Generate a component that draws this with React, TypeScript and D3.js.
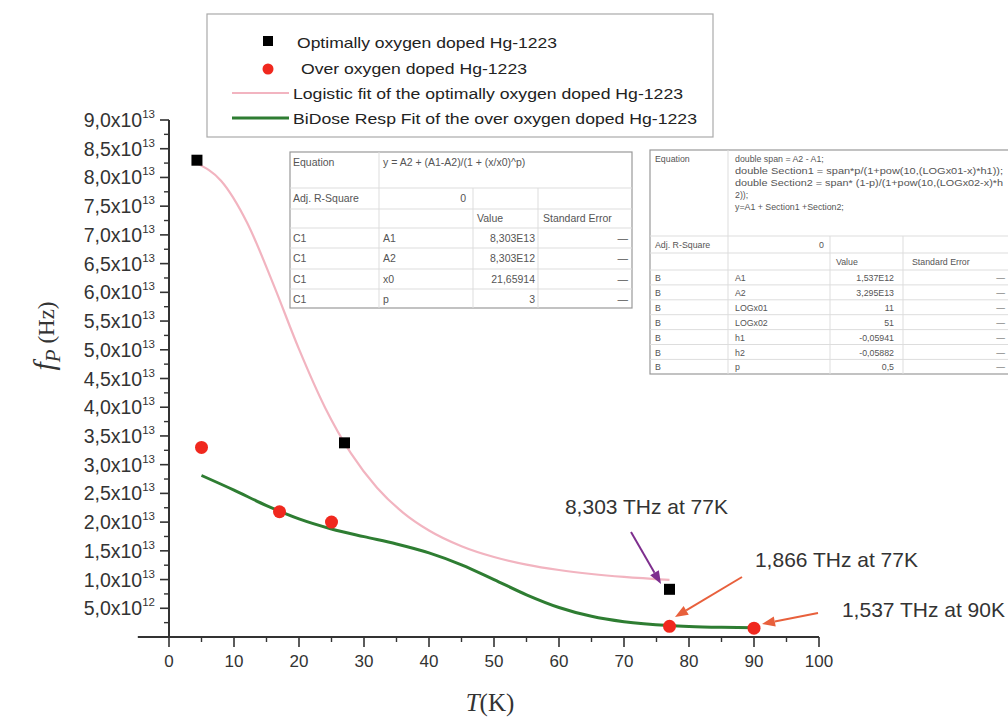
import React from "react";
import * as d3 from "d3";

// ---------- data ----------
const xTicks = [0, 10, 20, 30, 40, 50, 60, 70, 80, 90, 100];
const xMinor = [5, 15, 25, 35, 45, 55, 65, 75, 85, 95];
const yTicks = [5e12, 1e13, 1.5e13, 2e13, 2.5e13, 3e13, 3.5e13, 4e13, 4.5e13, 5e13, 5.5e13, 6e13, 6.5e13, 7e13, 7.5e13, 8e13, 8.5e13, 9e13];
const yMinor = [2.5e12, 7.5e12, 1.25e13, 1.75e13, 2.25e13, 2.75e13, 3.25e13, 3.75e13, 4.25e13, 4.75e13, 5.25e13, 5.75e13, 6.25e13, 6.75e13, 7.25e13, 7.75e13, 8.25e13, 8.75e13];

const optT = [4.3, 27, 77];
const optF = [8.3e13, 3.38e13, 8.303e12];
const overT = [5, 17, 25, 77, 90];
const overF = [3.3e13, 2.18e13, 2.0e13, 1.866e12, 1.537e12];

// fitted curves
const logiT = [4.3, 8, 12, 16, 20, 24, 28, 32, 36, 40, 45, 50, 55, 60, 65, 70, 77];
const logiF = [8.245e13, 7.944e13, 7.217e13, 6.156e13, 5.011e13, 3.996e13, 3.195e13, 2.599e13, 2.166e13, 1.854e13, 1.58e13, 1.392e13, 1.26e13, 1.166e13, 1.097e13, 1.045e13, 0.993e13];
const bidT = [5, 10, 15, 20, 25, 30, 35, 40, 45, 50, 55, 60, 65, 70, 77, 80, 85, 90];
const bidF = [2.812e13, 2.557e13, 2.288e13, 2.056e13, 1.881e13, 1.747e13, 1.62e13, 1.465e13, 1.257e13, 0.9996e13, 0.7352e13, 0.514e13, 0.36e13, 0.2655e13, 0.199e13, 0.184e13, 0.1693e13, 0.1616e13];

const legendLabels = [
  "Optimally oxygen doped Hg-1223",
  "Over oxygen doped Hg-1223",
  "Logistic fit of the optimally oxygen doped Hg-1223",
  "BiDose Resp Fit of the over oxygen doped Hg-1223",
];

const table1Eq = "y = A2 + (A1-A2)/(1 + (x/x0)^p)";
const table1Rows = [
  ["C1", "A1", "8,303E13", "--"],
  ["C1", "A2", "8,303E12", "--"],
  ["C1", "x0", "21,65914", "--"],
  ["C1", "p", "3", "--"],
];
const table2Eq = [
  "double span = A2 - A1;",
  "double Section1 = span*p/(1+pow(10,(LOGx01-x)*h1));",
  "double Section2 = span* (1-p)/(1+pow(10,(LOGx02-x)*h",
  "2));",
  "y=A1 + Section1 +Section2;",
];
const table2Rows = [
  ["B", "A1", "1,537E12", "--"],
  ["B", "A2", "3,295E13", "--"],
  ["B", "LOGx01", "11", "--"],
  ["B", "LOGx02", "51", "--"],
  ["B", "h1", "-0,05941", "--"],
  ["B", "h2", "-0,05882", "--"],
  ["B", "p", "0,5", "--"],
];

const annotations = [
  { text: "8,303 THz at 77K", tx: 728, ty: 514, from: [631, 532], to: [661, 584], color: "#7e2f8e" },
  { text: "1,866 THz at 77K", tx: 918, ty: 567, from: [742, 577], to: [675, 617], color: "#e8603c" },
  { text: "1,537 THz at 90K", tx: 1005, ty: 617, from: [818, 613], to: [762, 624], color: "#e8603c" },
];

const x = d3.scaleLinear().domain([0, 100]).range([169, 819]);
const y = d3.scaleLinear().domain([0, 9e13]).range([637, 120]);

function yLabel(v: number) {
  const e = Math.floor(Math.log10(v) + 1e-9);
  const m = (v / Math.pow(10, e)).toFixed(1).replace(".", ",");
  return { m, e };
}

const sans = "Liberation Sans, Arial, sans-serif";
const serif = "Liberation Serif, Times New Roman, serif";

function Arrow({ from, to, color }: { from: number[]; to: number[]; color: string }) {
  const dx = to[0] - from[0];
  const dy = to[1] - from[1];
  const len = Math.hypot(dx, dy);
  const ux = dx / len, uy = dy / len;
  const hl = 13, hw = 5;
  const bx = to[0] - ux * hl, by = to[1] - uy * hl;
  const p1 = [bx - uy * hw, by + ux * hw];
  const p2 = [bx + uy * hw, by - ux * hw];
  return (
    <g>
      <line x1={from[0]} y1={from[1]} x2={bx} y2={by} stroke={color} strokeWidth={2} />
      <polygon points={`${to[0]},${to[1]} ${p1[0]},${p1[1]} ${p2[0]},${p2[1]}`} fill={color} />
    </g>
  );
}

function Table1() {
  const L = 290, R = 632, T = 152;
  const cols = [290, 379, 473, 538, 632];
  const lines = [188, 209, 228, 248, 269, 289, 308];
  const tc = "#555";
  const fs = 10.5;
  return (
    <g fontFamily={sans} fontSize={fs} fill={tc}>
      <rect x={L} y={T} width={R - L} height={308 - T} fill="#fff" stroke="#999" strokeWidth={1.2} />
      {lines.slice(0, -1).map((ly) => (
        <line key={ly} x1={L} x2={R} y1={ly} y2={ly} stroke="#ddd" />
      ))}
      <line x1={cols[1]} x2={cols[1]} y1={T} y2={308} stroke="#ddd" />
      <line x1={cols[2]} x2={cols[2]} y1={188} y2={308} stroke="#ddd" />
      <line x1={cols[3]} x2={cols[3]} y1={188} y2={308} stroke="#ddd" />
      <text x={293} y={166}>Equation</text>
      <text x={383} y={166}>{table1Eq}</text>
      <text x={293} y={202}>Adj. R-Square</text>
      <text x={466} y={202} textAnchor="end">0</text>
      <text x={477} y={222}>Value</text>
      <text x={543} y={222}>Standard Error</text>
      {table1Rows.map((r, i) => {
        const cy = 242 + i * 20.3;
        return (
          <g key={i}>
            <text x={293} y={cy}>{r[0]}</text>
            <text x={383} y={cy}>{r[1]}</text>
            <text x={535} y={cy} textAnchor="end">{r[2]}</text>
            <text x={628} y={cy} textAnchor="end">{"\u2014"}</text>
          </g>
        );
      })}
    </g>
  );
}

function Table2() {
  const L = 650, R = 1010, T = 150, B = 374;
  const eqB = 236, adjB = 253, hdrB = 270, rh = 14.9;
  const cols = [650, 728, 830, 903];
  const tc = "#555";
  return (
    <g fontFamily={sans} fontSize={8.8} fill={tc}>
      <rect x={L} y={T} width={R - L} height={B - T} fill="#fff" stroke="#999" strokeWidth={1.2} />
      <line x1={L} x2={R} y1={eqB} y2={eqB} stroke="#ddd" />
      <line x1={L} x2={R} y1={adjB} y2={adjB} stroke="#ddd" />
      <line x1={L} x2={R} y1={hdrB} y2={hdrB} stroke="#ddd" />
      {table2Rows.slice(0, -1).map((_, i) => (
        <line key={i} x1={L} x2={R} y1={hdrB + (i + 1) * rh} y2={hdrB + (i + 1) * rh} stroke="#ddd" />
      ))}
      <line x1={cols[1]} x2={cols[1]} y1={T} y2={B} stroke="#ddd" />
      <line x1={cols[2]} x2={cols[2]} y1={eqB} y2={B} stroke="#ddd" />
      <line x1={cols[3]} x2={cols[3]} y1={eqB} y2={B} stroke="#ddd" />
      <text x={655} y={162}>Equation</text>
      {table2Eq.map((s, i) => (
        <text key={i} x={735} y={162 + i * 12} textLength={i === 1 || i === 2 ? 268 : undefined} lengthAdjust="spacingAndGlyphs">{s}</text>
      ))}
      <text x={655} y={248}>Adj. R-Square</text>
      <text x={824} y={248} textAnchor="end">0</text>
      <text x={836} y={265}>Value</text>
      <text x={912} y={265}>Standard Error</text>
      {table2Rows.map((r, i) => {
        const cy = hdrB + i * rh + 11;
        return (
          <g key={i}>
            <text x={655} y={cy}>{r[0]}</text>
            <text x={735} y={cy}>{r[1]}</text>
            <text x={894} y={cy} textAnchor="end">{r[2]}</text>
            <text x={1005} y={cy} textAnchor="end">{"\u2014"}</text>
          </g>
        );
      })}
    </g>
  );
}

export default function App() {
  const line = d3.line<number>().curve(d3.curveMonotoneX);
  const logiPath = line.x((_, i) => x(logiT[i])).y((d) => y(d))(logiF) as string;
  const line2 = d3.line<number>().curve(d3.curveMonotoneX);
  const bidPath = line2.x((_, i) => x(bidT[i])).y((d) => y(d))(bidF) as string;
  const axisColor = "#333";
  const x0 = y(0);
  const yAxisX = x(0);

  return (
    <svg width={1008} height={718} style={{ position: "absolute", left: 0, top: 0, background: "#fff" }}>
      <rect x={0} y={0} width={1008} height={718} fill="#fff" />

      {/* axes */}
      <line x1={x(-4.8)} x2={x(100)} y1={x0} y2={x0} stroke={axisColor} strokeWidth={2} />
      <line x1={yAxisX} x2={yAxisX} y1={y(9e13)} y2={x0} stroke={axisColor} strokeWidth={2} />
      {xTicks.map((t) => (
        <g key={t}>
          <line x1={x(t)} x2={x(t)} y1={x0} y2={x0 + 10} stroke={axisColor} strokeWidth={1.6} />
          <text x={x(t)} y={x0 + 30} textAnchor="middle" fontFamily={sans} fontSize={17} fill="#333">{t}</text>
        </g>
      ))}
      {xMinor.map((t) => (
        <line key={t} x1={x(t)} x2={x(t)} y1={x0} y2={x0 + 5} stroke={axisColor} strokeWidth={1.4} />
      ))}
      {yTicks.map((v) => {
        const { m, e } = yLabel(v);
        return (
          <g key={v}>
            <line x1={yAxisX - 9} x2={yAxisX} y1={y(v)} y2={y(v)} stroke={axisColor} strokeWidth={1.6} />
            <text x={155} y={y(v) + 7} textAnchor="end" fontFamily={sans} fontSize={19.5} fill="#333">
              {m}x10<tspan dy={-9} fontSize={11.5}>{e}</tspan>
            </text>
          </g>
        );
      })}
      {yMinor.map((v) => (
        <line key={v} x1={yAxisX - 5} x2={yAxisX} y1={y(v)} y2={y(v)} stroke={axisColor} strokeWidth={1.4} />
      ))}

      {/* axis titles */}
      <text transform="translate(54,336) rotate(-90)" textAnchor="middle" fontFamily={serif} fill="#333">
        <tspan fontStyle="italic" fontSize={30}>f</tspan>
        <tspan fontStyle="italic" fontSize={21} dy={6}>P</tspan>
        <tspan fontSize={23} dy={-6}> (Hz)</tspan>
      </text>
      <text x={490} y={711} textAnchor="middle" fontFamily={serif} fontSize={25} fill="#333">
        <tspan fontStyle="italic">T</tspan>(K)
      </text>

      {/* tables */}
      <Table1 />
      <Table2 />

      {/* fits */}
      <path d={logiPath} fill="none" stroke="#f2b4c0" strokeWidth={2.2} />
      <path d={bidPath} fill="none" stroke="#2e7d32" strokeWidth={3} />

      {/* points */}
      {optT.map((t, i) => (
        <rect key={i} x={x(t) - 5.5} y={y(optF[i]) - 5.5} width={11} height={11} fill="#000" />
      ))}
      {overT.map((t, i) => (
        <circle key={i} cx={x(t)} cy={y(overF[i])} r={6.5} fill="#f0281e" />
      ))}

      {/* annotations */}
      {annotations.map((a, i) => (
        <g key={i}>
          <Arrow from={a.from} to={a.to} color={a.color} />
          <text x={a.tx} y={a.ty} textAnchor="end" fontFamily={sans} fontSize={21} fill="#333">{a.text}</text>
        </g>
      ))}

      {/* legend */}
      <g fontFamily={sans} fill="#222">
        <rect x={207} y={14} width={506} height={123} fill="#fff" stroke="#aaa" strokeWidth={1.2} />
        <rect x={263} y={36} width={10} height={10} fill="#000" />
        <text x={297} y={48} fontSize={14.5} textLength={260} lengthAdjust="spacingAndGlyphs">{legendLabels[0]}</text>
        <circle cx={268} cy={69} r={5.5} fill="#f0281e" />
        <text x={301} y={74} fontSize={14.5} textLength={226} lengthAdjust="spacingAndGlyphs">{legendLabels[1]}</text>
        <line x1={232} x2={289} y1={93} y2={93} stroke="#f2b4c0" strokeWidth={2.2} />
        <text x={293} y={99} fontSize={15.5} textLength={390} lengthAdjust="spacingAndGlyphs">{legendLabels[2]}</text>
        <line x1={232} x2={289} y1={118} y2={118} stroke="#2e7d32" strokeWidth={3} />
        <text x={293} y={124} fontSize={15.5} textLength={404} lengthAdjust="spacingAndGlyphs">{legendLabels[3]}</text>
      </g>
    </svg>
  );
}
